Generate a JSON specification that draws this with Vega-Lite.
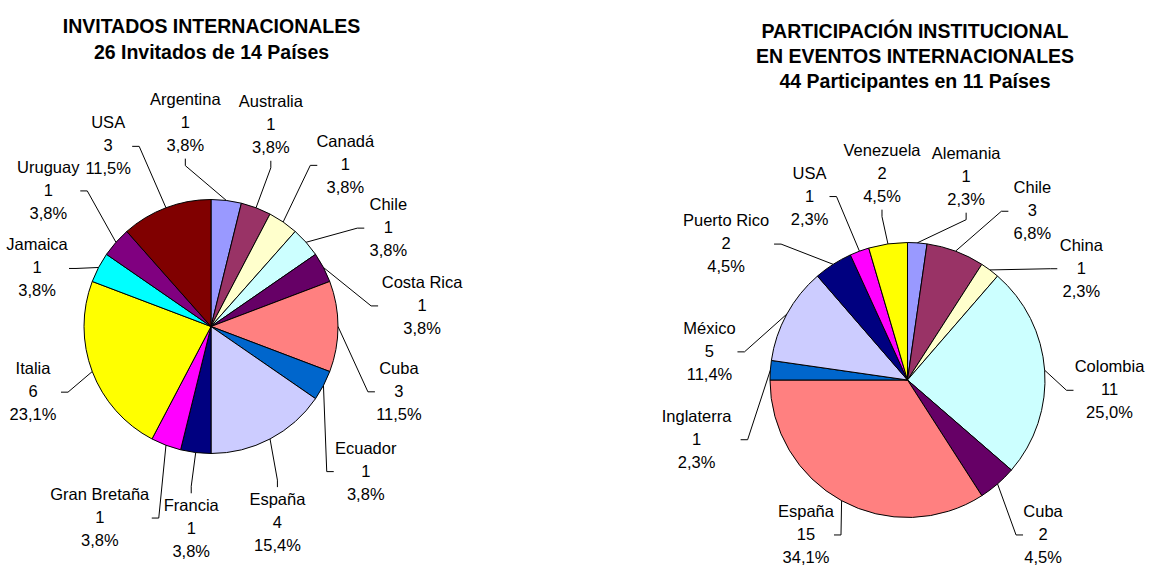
{
  "$schema": "https://vega.github.io/schema/vega-lite/v6.json",
  "padding": 0,
  "background": "white",
  "spacing": 0,
  "config": {"view": {"stroke": null}},
  "datasets": {
    "inv": [
      {"k": 1, "pais": "Argentina", "n": 1},
      {"k": 2, "pais": "Australia", "n": 1},
      {"k": 3, "pais": "Canadá", "n": 1},
      {"k": 4, "pais": "Chile", "n": 1},
      {"k": 5, "pais": "Costa Rica", "n": 1},
      {"k": 6, "pais": "Cuba", "n": 3},
      {"k": 7, "pais": "Ecuador", "n": 1},
      {"k": 8, "pais": "España", "n": 4},
      {"k": 9, "pais": "Francia", "n": 1},
      {"k": 10, "pais": "Gran Bretaña", "n": 1},
      {"k": 11, "pais": "Italia", "n": 6},
      {"k": 12, "pais": "Jamaica", "n": 1},
      {"k": 13, "pais": "Uruguay", "n": 1},
      {"k": 14, "pais": "USA", "n": 3}
    ],
    "par": [
      {"k": 1, "pais": "Alemania", "n": 1},
      {"k": 2, "pais": "Chile", "n": 3},
      {"k": 3, "pais": "China", "n": 1},
      {"k": 4, "pais": "Colombia", "n": 11},
      {"k": 5, "pais": "Cuba", "n": 2},
      {"k": 6, "pais": "España", "n": 15},
      {"k": 7, "pais": "Inglaterra", "n": 1},
      {"k": 8, "pais": "México", "n": 5},
      {"k": 9, "pais": "Puerto Rico", "n": 2},
      {"k": 10, "pais": "USA", "n": 1},
      {"k": 11, "pais": "Venezuela", "n": 2}
    ]
  },
  "resolve": {"scale": {"x": "independent", "y": "independent", "color": "independent", "theta": "independent"}},
  "hconcat": [
    {
      "width": 560,
      "height": 578,
      "data": {"name": "inv"},
      "title": {
        "text": ["INVITADOS INTERNACIONALES", "26 Invitados de 14 Países"],
        "orient": "top", "anchor": "middle", "frame": "group",
        "offset": -63, "dx": -68.5,
        "font": "Liberation Sans", "fontSize": 19.5, "fontWeight": "bold", "color": "black", "lineHeight": 25.5
      },
      "transform": [
        {"joinaggregate": [{"op": "sum", "field": "n", "as": "total"}]},
        {"window": [{"op": "sum", "field": "n", "as": "cum"}], "sort": [{"field": "k"}], "frame": [null, 0]},
        {"calculate": "2*PI*(datum.cum - datum.n/2)/datum.total", "as": "a"},
        {"calculate": "datum.a > PI ? datum.a - 2*PI : datum.a", "as": "sa"},
        {"calculate": "replace(format(100*datum.n/datum.total, '.1f'), '.', ',') + '%'", "as": "pct"},
        {"calculate": "datum.pais + '\\n' + datum.n + '\\n' + datum.pct", "as": "lbl"},
        {"calculate": "max(length(datum.pais), length(datum.pct))*4.0 + 2", "as": "hw"},
        {"calculate": "2*(abs(cos(datum.sa))*datum.hw + abs(sin(datum.sa))*33)", "as": "ext"},
        {"window": [{"op": "sum", "field": "ext", "as": "cext"}], "sort": [{"field": "sa"}], "frame": [null, 0]},
        {"calculate": "(datum.cext - datum.ext/2)/215", "as": "cc"},
        {"calculate": "datum.sa - datum.cc", "as": "b"},
        {"window": [{"op": "max", "field": "b", "as": "pm"}], "sort": [{"field": "sa"}], "frame": [null, 0]},
        {"window": [{"op": "min", "field": "b", "as": "sm"}], "sort": [{"field": "sa"}], "frame": [0, null]},
        {"calculate": "(datum.pm + datum.sm)/2 + datum.cc + 0.07", "as": "la"},
        {"calculate": "abs(sin(datum.la))*datum.hw + abs(cos(datum.la))*34", "as": "s"},
        {"calculate": "max(sin(datum.la)*(127 + 40 + datum.s)/127, (datum.hw - 204)/127)", "as": "lx"},
        {"calculate": "max(cos(datum.la)*(127 + 40 + datum.s)/127, -1.665)", "as": "ly"},
        {"calculate": "sin(datum.a)", "as": "ex"},
        {"calculate": "cos(datum.a)", "as": "ey"},
        {"calculate": "abs(sin(datum.la)) >= 0.41", "as": "side"},
        {"calculate": "datum.side ? datum.lx - (sin(datum.la) > 0 ? 1 : -1)*(datum.hw + 2)/127 : datum.lx", "as": "qx"},
        {"calculate": "datum.side ? datum.ly : datum.ly - (cos(datum.la) > 0 ? 1 : -1)*36/127", "as": "qy"},
        {"calculate": "datum.side ? datum.qx - (sin(datum.la) > 0 ? 1 : -1)*7/127 : datum.qx", "as": "px"},
        {"calculate": "datum.side ? datum.qy : datum.qy - (cos(datum.la) > 0 ? 1 : -1)*7/127", "as": "py"}
      ],
      "layer": [
        {
          "mark": {"type": "arc", "radius": 127, "stroke": "black", "strokeWidth": 1},
          "encoding": {
            "theta": {"field": "n", "type": "quantitative", "stack": true},
            "order": {"field": "k", "type": "quantitative"},
            "color": {"field": "pais", "type": "nominal", "legend": null,
              "scale": {
                "domain": ["Argentina", "Australia", "Canadá", "Chile", "Costa Rica", "Cuba", "Ecuador", "España", "Francia", "Gran Bretaña", "Italia", "Jamaica", "Uruguay", "USA"],
                "range": ["#9999FF", "#993366", "#FFFFCC", "#CCFFFF", "#660066", "#FF8080", "#0066CC", "#CCCCFF", "#000080", "#FF00FF", "#FFFF00", "#00FFFF", "#800080", "#800000"]
              }},
            "x": {"datum": 0, "type": "quantitative", "axis": null, "scale": {"domain": [-1.66142, 2.74803], "nice": false, "zero": false}},
            "y": {"datum": 0, "type": "quantitative", "axis": null, "scale": {"domain": [-1.98031, 2.57087], "nice": false, "zero": false}}
          }
        },
        {
          "mark": {"type": "rule", "color": "black", "strokeWidth": 1},
          "encoding": {
            "x": {"field": "ex", "type": "quantitative", "axis": null, "scale": {"domain": [-1.66142, 2.74803], "nice": false, "zero": false}},
            "y": {"field": "ey", "type": "quantitative", "axis": null, "scale": {"domain": [-1.98031, 2.57087], "nice": false, "zero": false}},
            "x2": {"field": "px"},
            "y2": {"field": "py"}
          }
        },
        {
          "mark": {"type": "rule", "color": "black", "strokeWidth": 1},
          "encoding": {
            "x": {"field": "px", "type": "quantitative", "axis": null, "scale": {"domain": [-1.66142, 2.74803], "nice": false, "zero": false}},
            "y": {"field": "py", "type": "quantitative", "axis": null, "scale": {"domain": [-1.98031, 2.57087], "nice": false, "zero": false}},
            "x2": {"field": "qx"},
            "y2": {"field": "qy"}
          }
        },
        {
          "mark": {"type": "text", "font": "Liberation Sans", "fontSize": 16.5, "lineHeight": 23, "lineBreak": "\n", "align": "center", "baseline": "middle", "dy": -23, "color": "black"},
          "encoding": {
            "x": {"field": "lx", "type": "quantitative", "axis": null, "scale": {"domain": [-1.66142, 2.74803], "nice": false, "zero": false}},
            "y": {"field": "ly", "type": "quantitative", "axis": null, "scale": {"domain": [-1.98031, 2.57087], "nice": false, "zero": false}},
            "text": {"field": "lbl"}
          }
        }
      ]
    },
    {
      "width": 590,
      "height": 578,
      "data": {"name": "par"},
      "title": {
        "text": ["PARTICIPACIÓN INSTITUCIONAL", "EN EVENTOS INTERNACIONALES", "44 Participantes en 11 Países"],
        "orient": "top", "anchor": "middle", "frame": "group",
        "offset": -92, "dx": 60,
        "font": "Liberation Sans", "fontSize": 19.5, "fontWeight": "bold", "color": "black", "lineHeight": 25
      },
      "transform": [
        {"joinaggregate": [{"op": "sum", "field": "n", "as": "total"}]},
        {"window": [{"op": "sum", "field": "n", "as": "cum"}], "sort": [{"field": "k"}], "frame": [null, 0]},
        {"calculate": "2*PI*(datum.cum - datum.n/2)/datum.total", "as": "a"},
        {"calculate": "datum.a > PI ? datum.a - 2*PI : datum.a", "as": "sa"},
        {"calculate": "replace(format(100*datum.n/datum.total, '.1f'), '.', ',') + '%'", "as": "pct"},
        {"calculate": "datum.pais + '\\n' + datum.n + '\\n' + datum.pct", "as": "lbl"},
        {"calculate": "max(length(datum.pais), length(datum.pct))*4.0 + 2", "as": "hw"},
        {"calculate": "2*(abs(cos(datum.sa))*datum.hw + abs(sin(datum.sa))*34) + 6", "as": "ext"},
        {"window": [{"op": "sum", "field": "ext", "as": "cext"}], "sort": [{"field": "sa"}], "frame": [null, 0]},
        {"calculate": "(datum.cext - datum.ext/2)/210", "as": "cc"},
        {"calculate": "datum.sa - datum.cc", "as": "b"},
        {"window": [{"op": "max", "field": "b", "as": "pm"}], "sort": [{"field": "sa"}], "frame": [null, 0]},
        {"window": [{"op": "min", "field": "b", "as": "sm"}], "sort": [{"field": "sa"}], "frame": [0, null]},
        {"calculate": "(datum.pm + datum.sm)/2 + datum.cc", "as": "la"},
        {"calculate": "abs(sin(datum.la))*datum.hw + abs(cos(datum.la))*34", "as": "s"},
        {"calculate": "min(sin(datum.la)*(137.5 + 32 + datum.s)/137.5, (236 - datum.hw)/137.5)", "as": "lx"},
        {"calculate": "max(cos(datum.la)*(137.5 + 32 + datum.s)/137.5, -1.127)", "as": "ly"},
        {"calculate": "sin(datum.a)", "as": "ex"},
        {"calculate": "cos(datum.a)", "as": "ey"},
        {"calculate": "abs(sin(datum.la)) >= 0.41", "as": "side"},
        {"calculate": "datum.side ? datum.lx - (sin(datum.la) > 0 ? 1 : -1)*(datum.hw + 2)/137.5 : datum.lx", "as": "qx"},
        {"calculate": "datum.side ? datum.ly : datum.ly - (cos(datum.la) > 0 ? 1 : -1)*36/137.5", "as": "qy"},
        {"calculate": "datum.side ? datum.qx - (sin(datum.la) > 0 ? 1 : -1)*7/137.5 : datum.qx", "as": "px"},
        {"calculate": "datum.side ? datum.qy : datum.qy - (cos(datum.la) > 0 ? 1 : -1)*7/137.5", "as": "py"}
      ],
      "layer": [
        {
          "mark": {"type": "arc", "radius": 137.5, "stroke": "black", "strokeWidth": 1},
          "encoding": {
            "theta": {"field": "n", "type": "quantitative", "stack": true},
            "order": {"field": "k", "type": "quantitative"},
            "color": {"field": "pais", "type": "nominal", "legend": null,
              "scale": {
                "domain": ["Alemania", "Chile", "China", "Colombia", "Cuba", "España", "Inglaterra", "México", "Puerto Rico", "USA", "Venezuela"],
                "range": ["#9999FF", "#993366", "#FFFFCC", "#CCFFFF", "#660066", "#FF8080", "#0066CC", "#CCCCFF", "#000080", "#FF00FF", "#FFFF00"]
              }},
            "x": {"datum": 0, "type": "quantitative", "axis": null, "scale": {"domain": [-2.52727, 1.76364], "nice": false, "zero": false}},
            "y": {"datum": 0, "type": "quantitative", "axis": null, "scale": {"domain": [-1.44, 2.76364], "nice": false, "zero": false}}
          }
        },
        {
          "mark": {"type": "rule", "color": "black", "strokeWidth": 1},
          "encoding": {
            "x": {"field": "ex", "type": "quantitative", "axis": null, "scale": {"domain": [-2.52727, 1.76364], "nice": false, "zero": false}},
            "y": {"field": "ey", "type": "quantitative", "axis": null, "scale": {"domain": [-1.44, 2.76364], "nice": false, "zero": false}},
            "x2": {"field": "px"},
            "y2": {"field": "py"}
          }
        },
        {
          "mark": {"type": "rule", "color": "black", "strokeWidth": 1},
          "encoding": {
            "x": {"field": "px", "type": "quantitative", "axis": null, "scale": {"domain": [-2.52727, 1.76364], "nice": false, "zero": false}},
            "y": {"field": "py", "type": "quantitative", "axis": null, "scale": {"domain": [-1.44, 2.76364], "nice": false, "zero": false}},
            "x2": {"field": "qx"},
            "y2": {"field": "qy"}
          }
        },
        {
          "mark": {"type": "text", "font": "Liberation Sans", "fontSize": 16.5, "lineHeight": 23, "lineBreak": "\n", "align": "center", "baseline": "middle", "dy": -23, "color": "black"},
          "encoding": {
            "x": {"field": "lx", "type": "quantitative", "axis": null, "scale": {"domain": [-2.52727, 1.76364], "nice": false, "zero": false}},
            "y": {"field": "ly", "type": "quantitative", "axis": null, "scale": {"domain": [-1.44, 2.76364], "nice": false, "zero": false}},
            "text": {"field": "lbl"}
          }
        }
      ]
    }
  ]
}
